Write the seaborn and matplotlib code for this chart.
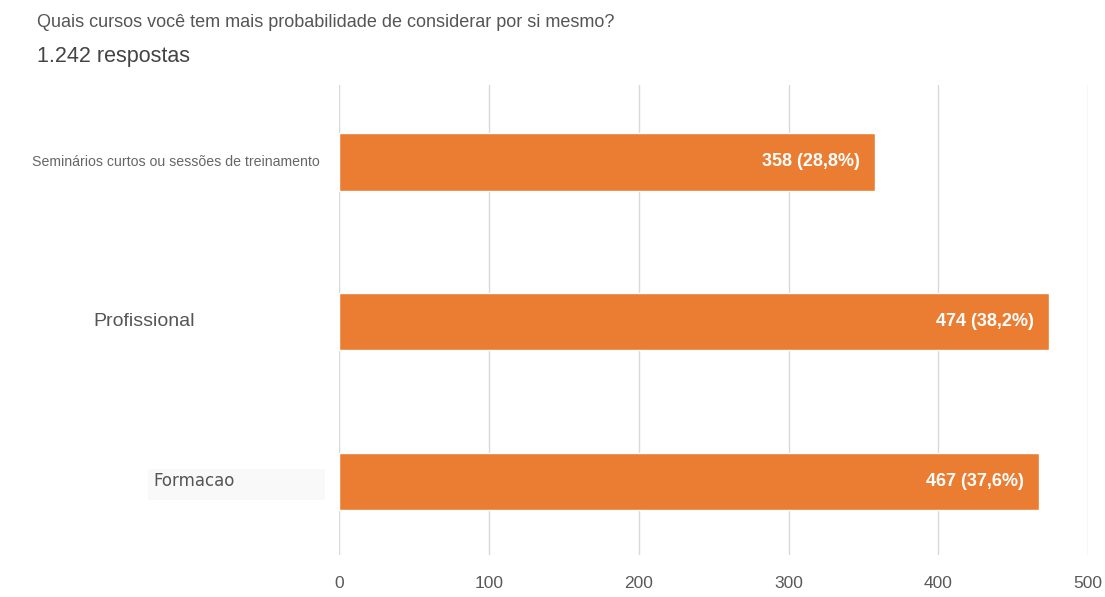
import pandas as pd
import seaborn as sns
import matplotlib.pyplot as plt
from matplotlib import transforms
from matplotlib.patches import Rectangle

# data
categories = ["Seminários curtos ou sessões de treinamento", "Profissional", "Formacao"]
counts = [358, 474, 467]
percents = ["28,8%", "38,2%", "37,6%"]
x_ticks = [0, 100, 200, 300, 400, 500]

df = pd.DataFrame({"curso": categories, "respostas": counts})

sns.set_theme(style="white")
plt.rcParams["font.family"] = ["Liberation Sans", "DejaVu Sans"]

fig = plt.figure(figsize=(11.05, 5.97), dpi=100)
ax = fig.add_axes([0.3068, 0.0704, 0.678, 0.7872])

sns.barplot(data=df, x="respostas", y="curso", orient="h", color="#EA7D32",
            saturation=1, width=0.36, ax=ax)

ax.set_xlim(0, 500)
ax.set_ylim(2.46, -0.48)
ax.set_xticks(x_ticks)
ax.set_xticklabels([str(t) for t in x_ticks], fontsize=12.5, color="#595959")
ax.tick_params(axis="x", length=0, pad=15)
ax.grid(axis="x", color="#d9d9d9", linewidth=1)
ax.set_axisbelow(True)
for s in ax.spines.values():
    s.set_visible(False)
ax.set_xlabel("")
ax.set_ylabel("")
ax.set_yticklabels([])
ax.tick_params(axis="y", length=0)

# value labels inside the bar ends
for i, (v, p) in enumerate(zip(counts, percents)):
    ax.annotate(f"{v} ({p})", xy=(v, i), xytext=(-11, 0), textcoords="offset points",
                ha="right", va="center", color="white", fontsize=13,
                fontweight="bold")

# faint box behind the last label (drawn under everything)
fig.patches.append(Rectangle((148 / 1105, 1 - 500 / 597), 177 / 1105, 31 / 597,
                             transform=fig.transFigure, facecolor="#f9f9f9",
                             edgecolor="none", zorder=-1))

# category labels, each styled as in the original
tr = transforms.blended_transform_factory(fig.transFigure, ax.transData)
ax.text(0.2896, 0, categories[0], transform=tr, ha="right", va="center",
        fontsize=10.2, color="#666666")
ax.text(0.0842, 1, categories[1], transform=tr, ha="left", va="center",
        fontsize=14, color="#555555")
ax.text(0.1385, 2, categories[2], transform=tr, ha="left", va="center",
        fontsize=12, color="#555555", family=["DejaVu Sans"])

fig.text(0.0335, 0.963, "Quais cursos você tem mais probabilidade de considerar por si mesmo?",
         ha="left", va="center", fontsize=13, color="#555555")
fig.text(0.0335, 0.905, "1.242 respostas", ha="left", va="center", fontsize=15.5,
         color="#444444")

fig.savefig("out.png", dpi=100)
